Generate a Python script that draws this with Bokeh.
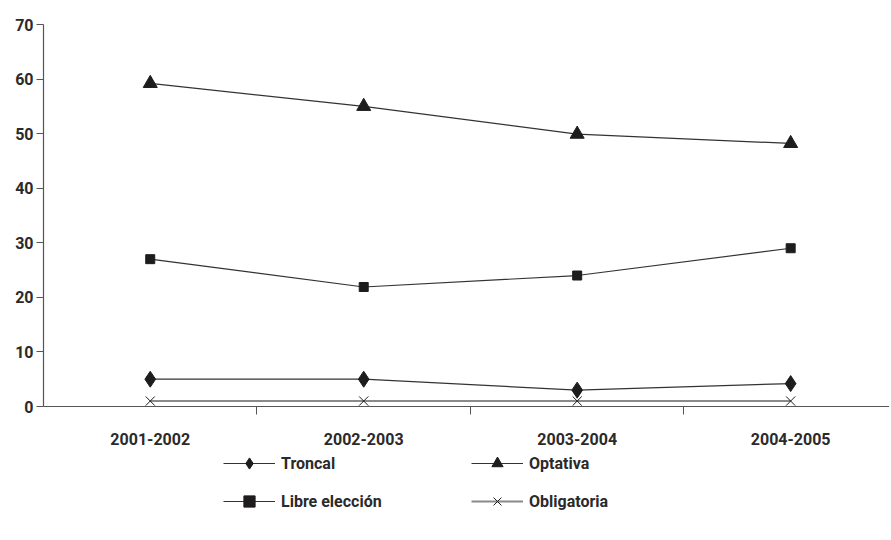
from bokeh.plotting import figure
from bokeh.layouts import column
from bokeh.models import Range1d, FixedTicker, Legend, LegendItem
from bokeh.embed import file_html
from bokeh.resources import INLINE

periods = ["2001-2002", "2002-2003", "2003-2004", "2004-2005"]
troncal = [5.0, 5.0, 3.0, 4.2]
libre = [27.0, 21.9, 24.0, 29.0]
optativa = [59.2, 55.0, 49.9, 48.2]
obligatoria = [1.0, 1.0, 1.0, 1.0]
y_ticks = [0, 10, 20, 30, 40, 50, 60, 70]

xs = [i + 0.5 for i in range(len(periods))]

FONT = "Roboto"
FSIZE = "16px"
FSTYLE = "bold"
TCOL = "#2a2a2a"
dark = "#333333"
mk = "#1e1c1d"
axc = "#555555"

p = figure(width=889, height=447, output_backend="svg", toolbar_location=None,
           x_range=Range1d(0, 3.963), y_range=Range1d(0, 70),
           min_border_left=43, min_border_right=0, min_border_top=24, min_border_bottom=37)
p.outline_line_color = None
p.xgrid.grid_line_color = None
p.ygrid.grid_line_color = None


def draw(fig):
    r = {}
    r["tl"] = fig.line(xs, troncal, line_color=dark, line_width=1.2)
    r["tm"] = fig.scatter(xs, troncal, marker="diamond", size=16, fill_color=mk, line_color=mk)
    r["ll"] = fig.line(xs, libre, line_color=dark, line_width=1.2)
    r["lm"] = fig.scatter(xs, libre, marker="square", size=9, fill_color=mk, line_color=mk)
    r["ol"] = fig.line(xs, optativa, line_color=dark, line_width=1.2)
    r["om"] = fig.scatter(xs, optativa, marker="triangle", size=14, fill_color=mk, line_color=mk)
    r["bl"] = fig.line(xs, obligatoria, line_color="#8a8a8a", line_width=2)
    r["bm"] = fig.scatter(xs, obligatoria, marker="x", size=13, line_color=mk, line_width=1)
    return r


draw(p)

# x axis
xa = p.xaxis[0]
xa.ticker = FixedTicker(ticks=xs, minor_ticks=[1, 2, 3])
xa.major_label_overrides = {x: s for x, s in zip(xs, periods)}
xa.major_tick_out = 0
xa.major_tick_in = 0
xa.minor_tick_out = 8
xa.minor_tick_in = 0
xa.minor_tick_line_color = axc
xa.axis_line_color = axc
xa.axis_line_width = 1.2
xa.major_label_standoff = 18
xa.major_label_text_font = FONT
xa.major_label_text_font_size = FSIZE
xa.major_label_text_font_style = FSTYLE
xa.major_label_text_color = TCOL

# y axis
ya = p.yaxis[0]
ya.ticker = FixedTicker(ticks=y_ticks)
ya.major_tick_out = 7
ya.major_tick_in = 0
ya.minor_tick_out = 0
ya.minor_tick_in = 0
ya.major_tick_line_color = axc
ya.axis_line_color = axc
ya.axis_line_width = 1.2
ya.major_label_standoff = 3
ya.major_label_text_font = FONT
ya.major_label_text_font_size = FSIZE
ya.major_label_text_font_style = FSTYLE
ya.major_label_text_color = TCOL

# legend figure (series drawn off-view, used only for legend glyphs)
lf = figure(width=889, height=88, output_backend="svg", toolbar_location=None,
            x_range=Range1d(100, 101), y_range=Range1d(0, 70),
            x_axis_type=None, y_axis_type=None,
            min_border_left=0, min_border_right=0, min_border_top=0, min_border_bottom=0)
lf.outline_line_color = None
lf.xgrid.grid_line_color = None
lf.ygrid.grid_line_color = None
lr = draw(lf)

legend = Legend(items=[
    LegendItem(label="Troncal", renderers=[lr["tl"], lr["tm"]]),
    LegendItem(label="Optativa", renderers=[lr["ol"], lr["om"]]),
    LegendItem(label="Libre elección", renderers=[lr["ll"], lr["lm"]]),
    LegendItem(label="Obligatoria", renderers=[lr["bl"], lr["bm"]]),
], orientation="horizontal", ncols=2, location=(180, 20))
legend.glyph_width = 52
legend.glyph_height = 28
legend.label_standoff = 6
legend.label_width = 180
legend.spacing = 10
legend.padding = 0
legend.margin = 0
legend.border_line_color = None
legend.background_fill_alpha = 0
legend.label_text_font = FONT
legend.label_text_font_size = FSIZE
legend.label_text_font_style = FSTYLE
legend.label_text_color = TCOL
lf.add_layout(legend)

layout = column(p, lf, spacing=0)
open("out.html", "w").write(file_html(layout, INLINE))
